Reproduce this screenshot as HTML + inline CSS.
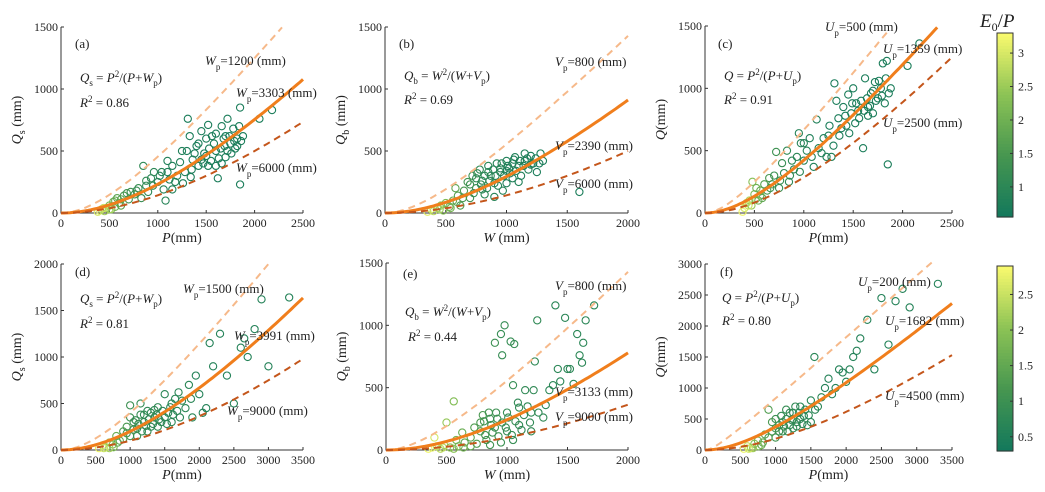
<!DOCTYPE html>
<html><head><meta charset="utf-8"><style>
body{margin:0;background:#fff}
svg{display:block;font-family:"Liberation Serif",serif}
.t{font-size:12px;fill:#222}
.a{font-size:13px;fill:#222}
</style></head><body>
<svg id="chart" width="1045" height="492" viewBox="0 0 1045 492" xmlns="http://www.w3.org/2000/svg">
<g id="marks"></g>
<g id="texts" class="a">
<text x="75" y="48">(a)</text>
<text x="80" y="82"><tspan font-style="italic">Q</tspan><tspan font-size="9" dy="4">s</tspan><tspan dy="-4"> = </tspan><tspan font-style="italic">P</tspan><tspan font-size="9" dy="-5">2</tspan><tspan dy="5">/(</tspan><tspan font-style="italic">P</tspan><tspan>+</tspan><tspan font-style="italic">W</tspan><tspan font-size="9" dy="4">p</tspan><tspan dy="-4">)</tspan></text>
<text x="80" y="107"><tspan font-style="italic">R</tspan><tspan font-size="9" dy="-5">2</tspan><tspan dy="5"> = 0.86</tspan></text>
<text x="205" y="65"><tspan font-style="italic">W</tspan><tspan font-size="9" dy="5">p</tspan><tspan dy="-5">=1200 (mm)</tspan></text>
<text x="236" y="97"><tspan font-style="italic">W</tspan><tspan font-size="9" dy="5">p</tspan><tspan dy="-5">=3303 (mm)</tspan></text>
<text x="236" y="172"><tspan font-style="italic">W</tspan><tspan font-size="9" dy="5">p</tspan><tspan dy="-5">=6000 (mm)</tspan></text>
<text x="399" y="48">(b)</text>
<text x="404" y="80"><tspan font-style="italic">Q</tspan><tspan font-size="9" dy="4">b</tspan><tspan dy="-4"> = </tspan><tspan font-style="italic">W</tspan><tspan font-size="9" dy="-5">2</tspan><tspan dy="5">/(</tspan><tspan font-style="italic">W</tspan><tspan>+</tspan><tspan font-style="italic">V</tspan><tspan font-size="9" dy="4">p</tspan><tspan dy="-4">)</tspan></text>
<text x="404" y="104"><tspan font-style="italic">R</tspan><tspan font-size="9" dy="-5">2</tspan><tspan dy="5"> = 0.69</tspan></text>
<text x="555" y="66"><tspan font-style="italic">V</tspan><tspan font-size="9" dy="5">p</tspan><tspan dy="-5">=800 (mm)</tspan></text>
<text x="555" y="150"><tspan font-style="italic">V</tspan><tspan font-size="9" dy="5">p</tspan><tspan dy="-5">=2390 (mm)</tspan></text>
<text x="555" y="188"><tspan font-style="italic">V</tspan><tspan font-size="9" dy="5">p</tspan><tspan dy="-5">=6000 (mm)</tspan></text>
<text x="718" y="48">(c)</text>
<text x="724" y="80"><tspan font-style="italic">Q</tspan><tspan> = </tspan><tspan font-style="italic">P</tspan><tspan font-size="9" dy="-5">2</tspan><tspan dy="5">/(</tspan><tspan font-style="italic">P</tspan><tspan>+</tspan><tspan font-style="italic">U</tspan><tspan font-size="9" dy="4">p</tspan><tspan dy="-4">)</tspan></text>
<text x="724" y="104"><tspan font-style="italic">R</tspan><tspan font-size="9" dy="-5">2</tspan><tspan dy="5"> = 0.91</tspan></text>
<text x="825" y="31"><tspan font-style="italic">U</tspan><tspan font-size="9" dy="5">p</tspan><tspan dy="-5">=500 (mm)</tspan></text>
<text x="883" y="53"><tspan font-style="italic">U</tspan><tspan font-size="9" dy="5">p</tspan><tspan dy="-5">=1359 (mm)</tspan></text>
<text x="883" y="127"><tspan font-style="italic">U</tspan><tspan font-size="9" dy="5">p</tspan><tspan dy="-5">=2500 (mm)</tspan></text>
<text x="75" y="276">(d)</text>
<text x="80" y="303"><tspan font-style="italic">Q</tspan><tspan font-size="9" dy="4">s</tspan><tspan dy="-4"> = </tspan><tspan font-style="italic">P</tspan><tspan font-size="9" dy="-5">2</tspan><tspan dy="5">/(</tspan><tspan font-style="italic">P</tspan><tspan>+</tspan><tspan font-style="italic">W</tspan><tspan font-size="9" dy="4">p</tspan><tspan dy="-4">)</tspan></text>
<text x="80" y="328"><tspan font-style="italic">R</tspan><tspan font-size="9" dy="-5">2</tspan><tspan dy="5"> = 0.81</tspan></text>
<text x="183" y="293"><tspan font-style="italic">W</tspan><tspan font-size="9" dy="5">p</tspan><tspan dy="-5">=1500 (mm)</tspan></text>
<text x="234" y="340"><tspan font-style="italic">W</tspan><tspan font-size="9" dy="5">p</tspan><tspan dy="-5">=3991 (mm)</tspan></text>
<text x="227" y="415"><tspan font-style="italic">W</tspan><tspan font-size="9" dy="5">p</tspan><tspan dy="-5">=9000 (mm)</tspan></text>
<text x="403" y="278">(e)</text>
<text x="405" y="316"><tspan font-style="italic">Q</tspan><tspan font-size="9" dy="4">b</tspan><tspan dy="-4"> = </tspan><tspan font-style="italic">W</tspan><tspan font-size="9" dy="-5">2</tspan><tspan dy="5">/(</tspan><tspan font-style="italic">W</tspan><tspan>+</tspan><tspan font-style="italic">V</tspan><tspan font-size="9" dy="4">p</tspan><tspan dy="-4">)</tspan></text>
<text x="408" y="341"><tspan font-style="italic">R</tspan><tspan font-size="9" dy="-5">2</tspan><tspan dy="5"> = 0.44</tspan></text>
<text x="555" y="290"><tspan font-style="italic">V</tspan><tspan font-size="9" dy="5">p</tspan><tspan dy="-5">=800 (mm)</tspan></text>
<text x="555" y="396"><tspan font-style="italic">V</tspan><tspan font-size="9" dy="5">p</tspan><tspan dy="-5">=3133 (mm)</tspan></text>
<text x="555" y="421"><tspan font-style="italic">V</tspan><tspan font-size="9" dy="5">p</tspan><tspan dy="-5">=9000 (mm)</tspan></text>
<text x="720" y="276">(f)</text>
<text x="722" y="302"><tspan font-style="italic">Q</tspan><tspan> = </tspan><tspan font-style="italic">P</tspan><tspan font-size="9" dy="-5">2</tspan><tspan dy="5">/(</tspan><tspan font-style="italic">P</tspan><tspan>+</tspan><tspan font-style="italic">U</tspan><tspan font-size="9" dy="4">p</tspan><tspan dy="-4">)</tspan></text>
<text x="722" y="325"><tspan font-style="italic">R</tspan><tspan font-size="9" dy="-5">2</tspan><tspan dy="5"> = 0.80</tspan></text>
<text x="858" y="286"><tspan font-style="italic">U</tspan><tspan font-size="9" dy="5">p</tspan><tspan dy="-5">=200 (mm)</tspan></text>
<text x="885" y="325"><tspan font-style="italic">U</tspan><tspan font-size="9" dy="5">p</tspan><tspan dy="-5">=1682 (mm)</tspan></text>
<text x="885" y="400"><tspan font-style="italic">U</tspan><tspan font-size="9" dy="5">p</tspan><tspan dy="-5">=4500 (mm)</tspan></text>
<text x="980" y="27" font-size="19"><tspan font-style="italic">E</tspan><tspan font-size="12" dy="4">0</tspan><tspan dy="-4">/</tspan><tspan font-style="italic">P</tspan></text>
</g>
</svg>
<script>
const ptsA=[[380,10,3.0],[400,20,3.1],[420,30,2.8],[450,15,2.6],[470,40,2.5],[500,60,2.2],[520,30,2.4],[540,90,2.0],[560,50,2.1],[580,120,1.8],[600,80,1.9],[620,60,1.7],[650,140,1.5],[700,110,1.4],[720,170,1.3],[760,150,1.3],[800,200,1.2],[830,120,1.2],[850,380,1.1],[880,220,1.1],[900,170,1.0],[930,280,1.0],[960,330,1.0],[1000,250,0.9],[1020,300,0.9],[1060,190,0.9],[1080,100,0.9],[1100,330,0.8],[1120,270,0.8],[1150,380,0.8],[1200,300,0.8],[1230,410,0.8],[1260,240,0.8],[1300,500,0.7],[1310,760,0.7],[1330,620,0.7],[1360,430,0.7],[1400,540,0.7],[1420,380,0.7],[1450,660,0.7],[1480,480,0.7],[1500,600,0.7],[1520,710,0.7],[1550,420,0.7],[1580,560,0.7],[1600,640,0.7],[1620,280,0.7],[1650,520,0.7],[1680,600,0.7],[1700,450,0.7],[1720,760,0.7],[1750,560,0.7],[1780,680,0.7],[1800,520,0.7],[1820,600,0.7],[1850,850,0.7],[1850,230,0.7],[1880,620,0.7],[2050,760,0.7],[2180,830,0.7],[1450,430,0.7],[1600,380,0.7],[1700,620,0.7],[1250,500,0.8],[1100,420,0.8],[950,220,1.0],
[1350,350,0.7],[1380,480,0.7],[1420,560,0.7],[1470,400,0.7],[1500,460,0.7],[1530,520,0.7],[1560,620,0.7],[1600,500,0.7],[1630,440,0.7],[1660,700,0.7],[1690,540,0.7],[1720,500,0.7],[1740,620,0.7],[1760,480,0.7],[1790,580,0.7],[1820,540,0.7],[1840,700,0.7],[1860,580,0.7],[1520,380,0.7],[1660,400,0.7],[1180,250,0.8],[1280,330,0.8],[1040,330,0.9],[880,260,1.1],[780,180,1.2],[680,160,1.4],[620,110,1.7],[560,100,1.9],[500,30,2.6],[440,40,2.9],[1150,190,0.8],[1340,290,0.7]];
const ptsB=[[350,10,3.1],[380,30,2.9],[400,15,2.8],[430,40,2.6],[460,60,2.4],[480,20,2.3],[500,80,2.2],[530,50,2.0],[560,100,1.9],[580,200,1.8],[600,140,1.7],[620,60,1.6],[650,180,1.5],[680,250,1.4],[700,120,1.3],[720,300,1.3],[750,200,1.2],[780,350,1.1],[800,260,1.1],[820,150,1.0],[850,380,1.0],[870,300,1.0],[900,240,0.9],[920,400,0.9],[950,330,0.9],[970,180,0.9],[1000,420,0.8],[1020,360,0.8],[1050,280,0.8],[1070,450,0.8],[1100,380,0.8],[1120,300,0.8],[1150,420,0.8],[1180,350,0.8],[1200,460,0.7],[1220,400,0.7],[1250,330,0.7],[1280,480,0.7],[1300,420,0.7],[1600,170,0.7],[1050,400,0.8],[950,360,0.9],[850,330,1.0],[1150,480,0.8],[750,280,1.1],[1000,240,0.8],
[700,230,1.3],[730,160,1.2],[760,320,1.1],[790,230,1.1],[820,300,1.0],[840,200,1.0],[860,260,1.0],[890,350,0.9],[910,300,0.9],[930,220,0.9],[960,400,0.9],[980,300,0.8],[1010,380,0.8],[1030,320,0.8],[1060,430,0.8],[1080,340,0.8],[1110,420,0.8],[1140,380,0.8],[1170,440,0.8],[1200,390,0.7],[1240,440,0.7],[1270,400,0.7],[640,120,1.5],[590,90,1.7],[540,40,2.1],[450,30,2.6],[900,130,0.9],[1100,250,0.8],[800,190,1.0],[1000,340,0.8]];
const ptsC=[[380,10,3.2],[400,40,3.0],[420,80,2.8],[450,100,2.7],[470,60,2.5],[480,250,2.3],[500,150,2.2],[520,200,2.0],[540,100,2.0],[560,180,1.9],[580,120,1.8],[600,230,1.7],[630,180,1.5],[650,280,1.5],[680,230,1.4],[700,300,1.3],[720,490,1.3],[750,200,1.2],[780,400,1.2],[800,320,1.1],[830,500,1.1],[850,250,1.0],[880,420,1.0],[900,350,1.0],[930,450,1.0],[950,640,0.9],[970,560,0.9],[1000,420,0.9],[1030,500,0.9],[1060,600,0.8],[1100,370,0.8],[1130,750,0.8],[1150,520,0.8],[1200,600,0.8],[1230,450,0.8],[1260,700,0.7],[1300,540,0.7],[1310,1040,0.7],[1330,900,0.7],[1360,620,0.7],[1400,850,0.7],[1430,700,0.7],[1450,950,0.7],[1480,800,0.7],[1500,1000,0.7],[1530,880,0.7],[1560,760,0.7],[1600,520,0.7],[1620,1080,0.7],[1650,850,0.7],[1680,960,0.7],[1700,800,0.7],[1720,1050,0.7],[1750,920,0.7],[1780,1000,0.7],[1800,1200,0.7],[1820,880,0.7],[1840,1220,0.7],[1850,390,0.7],[1880,1000,0.7],[2050,1180,0.7],[2170,1360,0.7],[1550,820,0.7],[1650,780,0.7],
[1350,760,0.7],[1380,680,0.7],[1420,780,0.7],[1460,640,0.7],[1490,880,0.7],[1520,720,0.7],[1580,900,0.7],[1610,820,0.7],[1640,920,0.7],[1670,860,0.7],[1700,980,0.7],[1730,900,0.7],[1760,1060,0.7],[1790,940,0.7],[1830,1080,0.7],[1860,960,0.7],[1250,620,0.8],[1180,480,0.8],[1080,450,0.9],[960,330,1.0],[860,300,1.1],[760,260,1.2],[660,200,1.4],[560,140,1.8],[510,110,2.2],[440,60,2.9],[1000,560,0.9],[1280,450,0.8]];
const ptsD=[[550,20,2.8],[600,50,2.6],[650,30,2.4],[700,80,2.1],[750,60,1.9],[800,150,1.6],[850,100,1.5],[900,200,1.3],[950,250,1.2],[1000,150,1.1],[1000,480,1.0],[1050,300,1.0],[1100,230,0.9],[1150,380,0.9],[1200,300,0.9],[1250,420,0.8],[1300,250,0.8],[1350,350,0.8],[1400,460,0.8],[1450,300,0.8],[1500,600,0.7],[1550,400,0.7],[1600,300,0.7],[1650,550,0.7],[1700,620,0.7],[1800,450,0.7],[1900,350,0.7],[1950,800,0.6],[2000,600,0.6],[2100,450,0.6],[2150,1150,0.6],[2200,900,0.6],[2300,1250,0.6],[2400,800,0.6],[2500,500,0.6],[2600,1100,0.6],[2650,1200,0.6],[2700,1000,0.6],[2800,1300,0.6],[2900,1620,0.6],[3000,900,0.6],[3300,1640,0.6],[1250,200,0.8],[1150,500,0.9],[1350,430,0.8],[1000,350,1.0],[1850,700,0.7],
[950,180,1.1],[1050,220,1.0],[1080,320,0.9],[1120,280,0.9],[1170,200,0.9],[1200,380,0.8],[1230,260,0.8],[1270,330,0.8],[1300,400,0.8],[1330,280,0.8],[1380,380,0.8],[1420,330,0.8],[1470,420,0.7],[1500,350,0.7],[1530,280,0.7],[1580,460,0.7],[1620,380,0.7],[1680,420,0.7],[1720,350,0.7],[1750,530,0.7],[1880,550,0.7],[2050,400,0.6],[900,120,1.3],[820,80,1.5],[760,30,1.8],[700,20,2.2],[620,20,2.5],[1100,150,1.0],[1400,250,0.8],[1600,500,0.7]];
const ptsE=[[350,10,2.8],[380,20,2.7],[400,100,2.6],[420,30,2.5],[450,10,2.4],[480,40,2.2],[500,220,2.1],[530,20,2.0],[560,390,1.9],[580,80,1.8],[600,30,1.7],[630,140,1.6],[650,60,1.5],[700,100,1.4],[730,180,1.3],[750,50,1.3],[780,220,1.2],[800,280,1.2],[820,120,1.1],[850,300,1.1],[870,200,1.0],[900,860,1.0],[920,250,1.0],[950,930,0.9],[960,760,0.9],[980,1000,0.9],[1000,300,0.9],[1030,870,0.9],[1060,850,0.9],[1050,520,0.9],[1100,200,0.8],[1150,480,0.8],[1200,300,0.8],[1230,710,0.8],[1250,1040,0.8],[1300,260,0.8],[1350,480,0.7],[1400,1160,0.7],[1420,650,0.7],[1480,1060,0.7],[1500,650,0.7],[1550,530,0.7],[1580,930,0.7],[1600,760,0.7],[1630,860,0.7],[1650,1040,0.7],[1720,1160,0.7],[1000,150,0.9],[900,180,1.0],[1100,340,0.8],[950,60,1.0],[1200,150,0.8],
[780,150,1.2],[810,230,1.1],[830,80,1.1],[860,250,1.0],[880,140,1.0],[910,300,1.0],[930,110,1.0],[960,220,0.9],[990,180,0.9],[1010,260,0.9],[1040,120,0.9],[1070,230,0.9],[1090,380,0.8],[1120,160,0.8],[1140,280,0.8],[1170,350,0.8],[1190,220,0.8],[1220,480,0.8],[1260,300,0.8],[1320,360,0.7],[1380,520,0.7],[1440,550,0.7],[1520,650,0.7],[1620,700,0.7],[700,30,1.5],[640,20,1.7],[560,10,2.0],[470,20,2.4],[860,40,1.1],[1050,80,0.9]];
const ptsF=[[550,20,2.8],[600,60,2.5],[650,30,2.3],[700,100,2.0],[750,150,1.8],[800,80,1.6],[850,250,1.4],[900,650,1.3],[950,300,1.2],[1000,200,1.1],[1050,400,1.0],[1100,300,0.9],[1150,500,0.9],[1200,400,0.8],[1250,600,0.8],[1300,450,0.8],[1350,700,0.7],[1400,550,0.7],[1450,400,0.7],[1500,800,0.7],[1550,1500,0.7],[1600,700,0.7],[1700,1000,0.6],[1800,900,0.6],[1900,1300,0.6],[2000,1100,0.6],[2100,1500,0.6],[2200,1800,0.6],[2300,2100,0.6],[2400,1300,0.6],[2500,2450,0.6],[2600,1700,0.6],[2700,2400,0.6],[2800,2600,0.6],[2900,2300,0.6],[3300,2680,0.6],[1250,350,0.8],[1350,500,0.7],[1150,650,0.9],[1000,500,1.0],[950,450,1.2],
[1050,300,1.0],[1080,550,0.9],[1120,380,0.9],[1170,300,0.9],[1200,600,0.8],[1230,480,0.8],[1280,700,0.8],[1300,380,0.8],[1330,600,0.7],[1380,420,0.7],[1420,650,0.7],[1470,560,0.7],[1500,450,0.7],[1560,650,0.7],[1650,850,0.7],[1750,1150,0.6],[1850,1000,0.6],[1950,1250,0.6],[2050,1300,0.6],[2150,1600,0.6],[900,200,1.3],[820,120,1.5],[760,60,1.8],[680,30,2.2],[620,20,2.6],[1000,350,1.1],[1100,450,0.9],[1250,500,0.8]];
const fitParams={a:[1200,3303,6000],b:[800,2390,6000],c:[500,1359,2500],d:[1500,3991,9000],e:[800,3133,9000],f:[200,1682,4500]};
const fitEnds={a:[2283,2500,2500],b:[2000,2000,2000],c:[1850,2350,2500],d:[3000,3500,3500],e:[2000,2000,2000],f:[3250,3500,3500]};
const xTicksTop=[0,500,1000,1500,2000,2500];
const xTicksW=[0,500,1000,1500,2000];
const xTicksBot=[0,500,1000,1500,2000,2500,3000,3500];
const yTicks1500=[0,500,1000,1500];
const yTicks2000=[0,500,1000,1500,2000];
const yTicks3000=[0,500,1000,1500,2000,2500,3000];
const cbTopTicks=[1,1.5,2,2.5,3];
const cbBotTicks=[0.5,1,1.5,2,2.5];

const NS="http://www.w3.org/2000/svg";
const g=document.getElementById('marks');
function el(t,a,p){const e=document.createElementNS(NS,t);for(const k in a)e.setAttribute(k,a[k]);(p||g).appendChild(e);return e;}
function cmap(t){t=Math.max(0,Math.min(1,t));const s=[[18,120,92],[70,150,80],[140,195,85],[250,250,110]];const f=t*3,i=Math.min(2,Math.floor(f)),u=f-i;const c=s[i].map((v,k)=>Math.round(v+(s[i+1][k]-v)*u));return `rgb(${c[0]},${c[1]},${c[2]})`;}

const panels=[
 {id:'a',x0:61,x1:303,y0:213,y1:27,xmax:2500,ymax:1500,xt:xTicksTop,yt:yTicks1500,pts:ptsA,cr:[0.55,3.3],xl:'P',yl:'Q',ys:'s'},
 {id:'b',x0:385,x1:628,y0:213,y1:27,xmax:2000,ymax:1500,xt:xTicksW,yt:yTicks1500,pts:ptsB,cr:[0.55,3.3],xl:'W',yl:'Q',ys:'b'},
 {id:'c',x0:705,x1:952,y0:213,y1:26,xmax:2500,ymax:1500,xt:xTicksTop,yt:yTicks1500,pts:ptsC,cr:[0.55,3.3],xl:'P',yl:'Q',ys:''},
 {id:'d',x0:61,x1:303,y0:450,y1:264,xmax:3500,ymax:2000,xt:xTicksBot,yt:yTicks2000,pts:ptsD,cr:[0.3,2.9],xl:'P',yl:'Q',ys:'s'},
 {id:'e',x0:386,x1:628,y0:450,y1:263,xmax:2000,ymax:1500,xt:xTicksW,yt:yTicks1500,pts:ptsE,cr:[0.3,2.9],xl:'W',yl:'Q',ys:'b'},
 {id:'f',x0:705,x1:952,y0:450,y1:264,xmax:3500,ymax:3000,xt:xTicksBot,yt:yTicks3000,pts:ptsF,cr:[0.3,2.9],xl:'P',yl:'Q',ys:''}
];
panels.forEach(p=>{
 const sx=v=>p.x0+v/p.xmax*(p.x1-p.x0), sy=v=>p.y0-v/p.ymax*(p.y0-p.y1);
 const pg=el('g',{});
 
 
 const ax=el('path',{d:`M${p.x0},${p.y1}V${p.y0}H${p.x1}`,fill:'none',stroke:'#333','stroke-width':1},pg);
 
 
 p.xt.forEach(v=>{const x=sx(v);el('line',{x1:x,x2:x,y1:p.y0,y2:p.y0-3,stroke:'#333'},pg);
  const t=el('text',{x:x,y:p.y0+14,'text-anchor':'middle',class:'t'},pg);t.textContent=v;
  
  });
 p.yt.forEach(v=>{const y=sy(v);el('line',{x1:p.x0,x2:p.x0+3,y1:y,y2:y,stroke:'#333'},pg);
  const t=el('text',{x:p.x0-3,y:y+4,'text-anchor':'end',class:'t'},pg);t.textContent=v;
  
  });
 const xlab=el('text',{x:(p.x0+p.x1)/2,y:p.y0+29,'text-anchor':'middle','font-size':14,fill:'#222'},pg);
 xlab.innerHTML=`<tspan font-style="italic">${p.xl}</tspan>${p.xl=='W'?' ':''}(mm)`;
 
 
 const cy=(p.y0+p.y1)/2, cx=p.x0-40;
 const ylab=el('text',{x:cx,y:cy,transform:`rotate(-90 ${cx} ${cy})`,'text-anchor':'middle','font-size':14,fill:'#222'},pg);
 ylab.innerHTML=`<tspan font-style="italic">${p.yl}</tspan>`+(p.ys?`<tspan font-size="10" dy="4">${p.ys}</tspan><tspan dy="-4"> (mm)</tspan>`:`(mm)`);
 
 
 p.pts.forEach(d=>{const c=el('circle',{cx:sx(d[0]),cy:sy(d[1]),r:3.6,fill:'none',stroke:cmap((d[2]-p.cr[0])/(p.cr[1]-p.cr[0])),'stroke-width':1.1},pg);
  
  });
 const styles=[{stroke:'#f6b98a','stroke-width':2,'stroke-dasharray':'7,5'},{stroke:'#f07e1c','stroke-width':3},{stroke:'#c4561b','stroke-width':2,'stroke-dasharray':'7,5'}];
 fitParams[p.id].forEach((k,i)=>{let d='';const end=fitEnds[p.id][i];
  for(let j=0;j<=80;j++){const x=end*j/80;const y=x*x/(x+k);d+=(j?'L':'M')+sx(x).toFixed(1)+','+sy(y).toFixed(1);}
  const a=Object.assign({d:d,fill:'none'},styles[i]);const c=el('path',a,pg);
  
  });
});
function colorbar(y1,y0,lo,hi,ticks,name){
 const cg=el('g',{});
 
 
 const n=60;for(let i=0;i<n;i++){const yy=y0-(y0-y1)*(i+1)/n;el('rect',{x:997,y:yy,width:16,height:(y0-y1)/n+0.6,fill:cmap((i+0.5)/n)},cg);}
 el('rect',{x:997,y:y1,width:16,height:y0-y1,fill:'none',stroke:'#333'},cg);
 ticks.forEach(v=>{const y=y0-(v-lo)/(hi-lo)*(y0-y1);el('line',{x1:1010,x2:1013,y1:y,y2:y,stroke:'#333'},cg);
  const t=el('text',{x:1018,y:y+4,class:'t'},cg);t.textContent=v;
  
  });
}
colorbar(33,217,0.55,3.3,cbTopTicks,'colorbar-top');
colorbar(266,451,0.3,2.9,cbBotTicks,'colorbar-bottom');
</script>
</body></html>
